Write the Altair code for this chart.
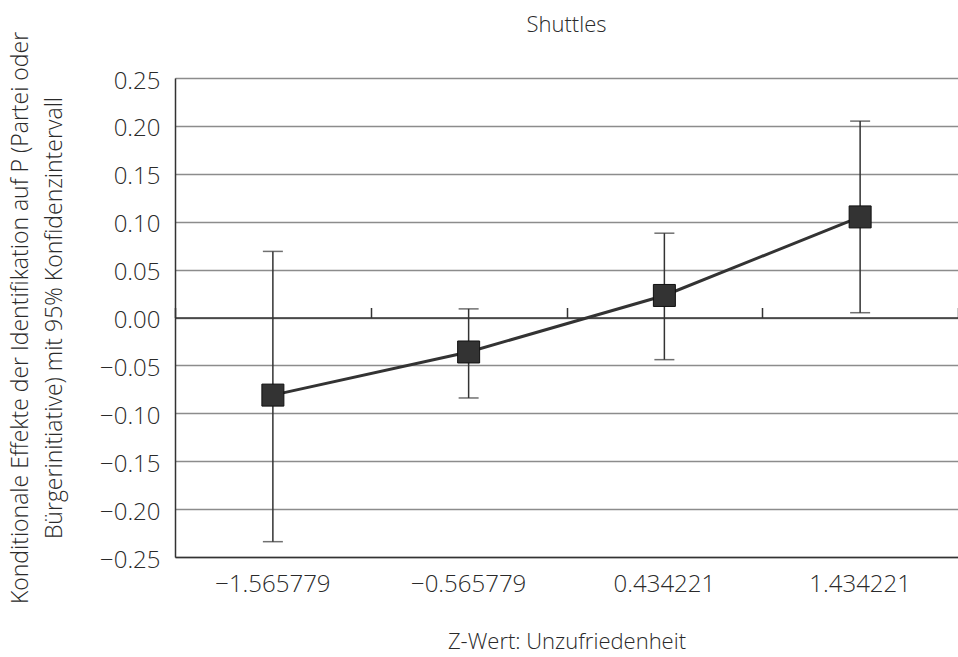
import altair as alt
import pandas as pd

categories = ["\u22121.565779", "\u22120.565779", "0.434221", "1.434221"]
estimate = [-0.081, -0.036, 0.023, 0.105]
ci_low = [-0.234, -0.084, -0.044, 0.005]
ci_high = [0.069, 0.009, 0.088, 0.205]
y_ticks = [-0.25, -0.20, -0.15, -0.10, -0.05, 0.0, 0.05, 0.10, 0.15, 0.20, 0.25]

df = pd.DataFrame({"cat": categories, "est": estimate, "lo": ci_low, "hi": ci_high})

W, H = 783, 479
FONT = "Open Sans"
TXT = "#2a2a2a"
DARK = "#333333"

xscale = alt.Scale(type="band", paddingInner=0, paddingOuter=0, domain=categories)
yscale = alt.Scale(domain=[-0.25, 0.25], nice=False, zero=False)

yaxis = alt.Axis(
    values=y_ticks,
    labelExpr="replace(format(datum.value, '.2f'), '-', '\u2212')",
    labelFont=FONT, labelFontSize=24, labelColor=TXT, labelPadding=15,
    labelFontWeight=300, labelOffset=3,
    ticks=False, domain=True, domainColor=DARK, domainWidth=1.5,
    grid=True, gridColor="#8c8c8c", gridWidth=1.3,
    title=["Konditionale Effekte der Identifikation auf P (Partei oder",
           "B\u00fcrgerinitiative) mit 95% Konfidenzintervall"],
    titleFont=FONT, titleFontSize=23, titleColor=TXT, titleFontWeight=300,
    titleLineHeight=34, titlePadding=33,
)

x_bottom = alt.Axis(
    orient="bottom", labelFont=FONT, labelFontSize=24, labelColor=TXT, labelAngle=0,
    labelFontWeight=300,
    labelPadding=15, ticks=False, domain=True, domainColor=DARK, domainWidth=1.5,
    grid=False, title="Z-Wert: Unzufriedenheit", titleFont=FONT, titleFontSize=22,
    titleColor=TXT, titleFontWeight=300, titlePadding=35,
)

x_top = alt.Axis(
    orient="top", offset=-H / 2, labels=False, ticks=True, tickBand="extent",
    tickSize=10, tickColor=DARK, tickWidth=1.5, domain=True, domainColor=DARK,
    domainWidth=1.5, grid=False, title=None,
)

base = alt.Chart(df)
Y = alt.Y("est:Q", scale=yscale, axis=yaxis)

line = base.mark_line(color=DARK, strokeWidth=3).encode(
    x=alt.X("cat:N", sort=categories, scale=xscale, axis=x_bottom), y=Y
)

rules = base.mark_rule(color=DARK, strokeWidth=1.5).encode(
    x=alt.X("cat:N", sort=categories, scale=xscale, axis=x_top),
    y=alt.Y("lo:Q", scale=yscale, axis=yaxis), y2="hi:Q",
)

cap_lo = base.mark_tick(color=DARK, orient="horizontal", size=20, thickness=1.5).encode(
    x=alt.X("cat:N", sort=categories, scale=xscale, axis=None),
    y=alt.Y("lo:Q", scale=yscale, axis=yaxis),
)
cap_hi = base.mark_tick(color=DARK, orient="horizontal", size=20, thickness=1.5).encode(
    x=alt.X("cat:N", sort=categories, scale=xscale, axis=None),
    y=alt.Y("hi:Q", scale=yscale, axis=yaxis),
)

points = base.mark_square(size=484, color="#333333", stroke="#111111", strokeWidth=1, opacity=1).encode(
    x=alt.X("cat:N", sort=categories, scale=xscale, axis=None), y=Y
)

chart = alt.layer(line, rules, cap_lo, cap_hi, points).resolve_axis(x="independent").properties(
    width=W, height=H,
    autosize=alt.AutoSizeParams(type="none"),
    padding={"left": 175, "top": 78, "right": 0, "bottom": 100},
    title=alt.TitleParams(text="Shuttles", font=FONT, fontSize=22, color=TXT,
                          fontWeight=300, anchor="middle", baseline="alphabetic",
                          offset=8, dy=31),
).configure_view(stroke=None).configure(background="white")

chart.save("out.html", embed_options={"renderer": "svg", "actions": False})
